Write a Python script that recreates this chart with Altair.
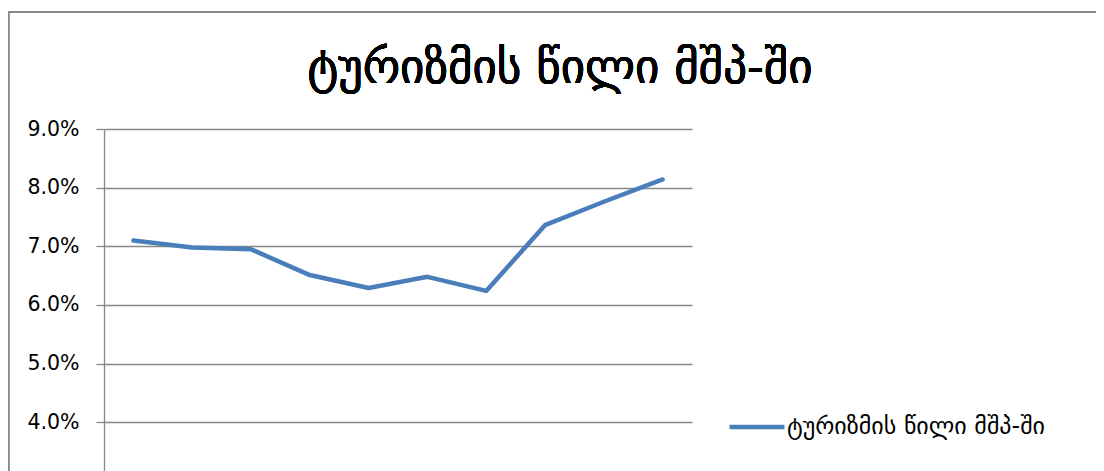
import altair as alt
import pandas as pd

title_text = "ტურიზმის წილი მშპ-ში"
periods = ["1", "2", "3", "4", "5", "6", "7", "8", "9", "10"]
shares = [0.0710, 0.0698, 0.0695, 0.0651, 0.0629, 0.0648, 0.0624, 0.0736, 0.0776, 0.0814]
y_ticks = [0.04, 0.05, 0.06, 0.07, 0.08, 0.09]

df = pd.DataFrame({"period": periods, "share": shares, "series": [title_text] * len(periods)})

GRAY = "#898989"
BLUE = "#4A7EBB"
W, H = 588, 342

line = alt.Chart(df).mark_line(strokeWidth=4.5, strokeCap="round", strokeJoin="round").encode(
    x=alt.X("period:O", sort=periods, axis=None,
            scale=alt.Scale(type="point", padding=0.5)),
    y=alt.Y("share:Q",
            scale=alt.Scale(domain=[0.0317, 0.09], nice=False, zero=False),
            axis=alt.Axis(values=y_ticks, format=".1%", title=None,
                          grid=True, gridColor=GRAY, gridWidth=1.3,
                          domainColor=GRAY, domainWidth=1.3,
                          tickColor=GRAY, tickWidth=1.3, tickSize=8,
                          labelFont="DejaVu Sans", labelFontSize=20.5, labelColor="#000000",
                          labelPadding=17)),
    color=alt.Color("series:N", scale=alt.Scale(range=[BLUE]),
                    legend=alt.Legend(title=None, orient="none", legendX=623, legendY=268,
                                      symbolType="stroke", symbolSize=3025, symbolStrokeWidth=4.5,
                                      labelFont="DejaVu Sans", labelFontSize=24, labelColor="#000000",
                                      labelOffset=0, labelLimit=400)),
)

border_left = alt.Chart(df).mark_rule(color=GRAY, strokeWidth=1.3).encode(
    x=alt.value(-95.5), y=alt.value(-117), y2=alt.value(H + 10)
)
border_top = alt.Chart(df).mark_rule(color=GRAY, strokeWidth=1.3).encode(
    x=alt.value(-95.5), x2=alt.value(992), y=alt.value(-117)
)
title = alt.Chart(df).mark_text(font="DejaVu Sans", fontSize=47, color="#000000",
                                align="center", baseline="alphabetic").encode(
    x=alt.value(456), y=alt.value(-46), text=alt.value(title_text)
)

chart = alt.layer(border_left, border_top, title, line).properties(
    width=W, height=H,
    autosize=alt.AutoSizeParams(type="none"),
    padding={"left": 96, "top": 121, "right": 404, "bottom": 0},
).configure(background="white").configure_view(strokeWidth=0, stroke="transparent")

chart.save("out.html", embed_options={"renderer": "svg", "actions": False})
